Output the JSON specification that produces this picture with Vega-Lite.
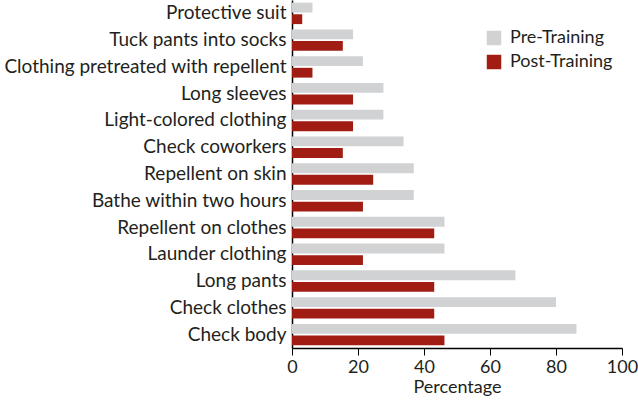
{
  "$schema": "https://vega.github.io/schema/vega-lite/v6.json",
  "autosize": "none",
  "padding": {"left": 292, "top": 0, "right": 16, "bottom": 54},
  "width": 330,
  "height": 348,
  "background": "white",
  "data": {
    "values": [
      {"practice": "Protective suit", "group": "Pre-Training", "pct": 6.2},
      {"practice": "Protective suit", "group": "Post-Training", "pct": 3.1},
      {"practice": "Tuck pants into socks", "group": "Pre-Training", "pct": 18.5},
      {"practice": "Tuck pants into socks", "group": "Post-Training", "pct": 15.4},
      {"practice": "Clothing pretreated with repellent", "group": "Pre-Training", "pct": 21.5},
      {"practice": "Clothing pretreated with repellent", "group": "Post-Training", "pct": 6.2},
      {"practice": "Long sleeves", "group": "Pre-Training", "pct": 27.7},
      {"practice": "Long sleeves", "group": "Post-Training", "pct": 18.5},
      {"practice": "Light-colored clothing", "group": "Pre-Training", "pct": 27.7},
      {"practice": "Light-colored clothing", "group": "Post-Training", "pct": 18.5},
      {"practice": "Check coworkers", "group": "Pre-Training", "pct": 33.8},
      {"practice": "Check coworkers", "group": "Post-Training", "pct": 15.4},
      {"practice": "Repellent on skin", "group": "Pre-Training", "pct": 36.9},
      {"practice": "Repellent on skin", "group": "Post-Training", "pct": 24.6},
      {"practice": "Bathe within two hours", "group": "Pre-Training", "pct": 36.9},
      {"practice": "Bathe within two hours", "group": "Post-Training", "pct": 21.5},
      {"practice": "Repellent on clothes", "group": "Pre-Training", "pct": 46.2},
      {"practice": "Repellent on clothes", "group": "Post-Training", "pct": 43.1},
      {"practice": "Launder clothing", "group": "Pre-Training", "pct": 46.2},
      {"practice": "Launder clothing", "group": "Post-Training", "pct": 21.5},
      {"practice": "Long pants", "group": "Pre-Training", "pct": 67.7},
      {"practice": "Long pants", "group": "Post-Training", "pct": 43.1},
      {"practice": "Check clothes", "group": "Pre-Training", "pct": 80.0},
      {"practice": "Check clothes", "group": "Post-Training", "pct": 43.1},
      {"practice": "Check body", "group": "Pre-Training", "pct": 86.2},
      {"practice": "Check body", "group": "Post-Training", "pct": 46.2}
    ]
  },
  "mark": {"type": "bar"},
  "encoding": {
    "y": {
      "field": "practice",
      "type": "nominal",
      "sort": null,
      "scale": {"paddingInner": 0.2, "paddingOuter": 0.1},
      "axis": {
        "title": null,
        "ticks": false,
        "labelPadding": 6,
        "labelLimit": 0,
        "labelFontSize": 19,
        "labelFont": "Lato",
        "labelColor": "#231f20",
        "domainColor": "#000000",
        "domainWidth": 1.5
      }
    },
    "yOffset": {
      "field": "group",
      "sort": ["Pre-Training", "Post-Training"],
      "scale": {"paddingInner": 0.15}
    },
    "x": {
      "field": "pct",
      "type": "quantitative",
      "scale": {"domain": [0, 100]},
      "axis": {
        "title": "Percentage",
        "values": [0, 20, 40, 60, 80, 100],
        "grid": false,
        "tickSize": 7,
        "tickColor": "#000000",
        "domainColor": "#000000",
        "domainWidth": 1.5,
        "labelFlush": false,
        "labelFontSize": 18,
        "labelFont": "Lato",
        "labelColor": "#231f20",
        "labelPadding": 3,
        "titleFontSize": 18,
        "titleFont": "Lato",
        "titleFontWeight": "normal",
        "titleColor": "#231f20",
        "titlePadding": 2
      }
    },
    "color": {
      "field": "group",
      "type": "nominal",
      "sort": ["Pre-Training", "Post-Training"],
      "scale": {
        "domain": ["Pre-Training", "Post-Training"],
        "range": ["#d1d2d4", "#a11d14"]
      },
      "legend": {
        "title": null,
        "orient": "none",
        "legendX": 193,
        "legendY": 29,
        "symbolType": "square",
        "symbolSize": 210,
        "symbolStrokeWidth": 0,
        "labelFontSize": 18,
        "labelFont": "Lato",
        "labelColor": "#231f20",
        "labelOffset": 7,
        "rowPadding": 6
      }
    }
  },
  "config": {
    "view": {"stroke": null}
  }
}
